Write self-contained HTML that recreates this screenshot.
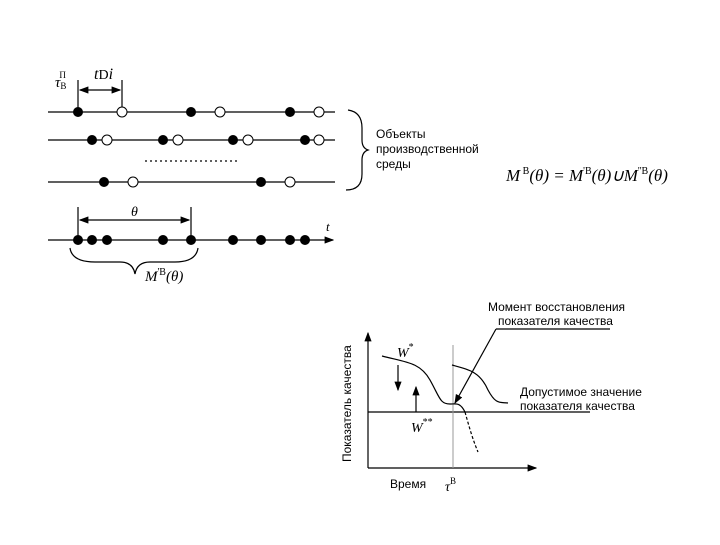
<!DOCTYPE html>
<html><head><meta charset="utf-8"><style>
body{margin:0;background:#fff}
.s{font-family:"Liberation Sans",sans-serif}
.m{font-family:"Liberation Serif",serif;font-style:italic}
</style></head><body>
<svg width="720" height="540" viewBox="0 0 720 540" xmlns="http://www.w3.org/2000/svg">
<defs><marker id="a" markerWidth="8" markerHeight="6" refX="7" refY="3" orient="auto"><path d="M0,0L8,3L0,6z" fill="#000"/></marker>
<marker id="b" markerWidth="8" markerHeight="6" refX="1" refY="3" orient="auto"><path d="M8,0L0,3L8,6z" fill="#000"/></marker></defs>
<g stroke="#000" stroke-width="1.2" fill="none">
<line x1="48" y1="112" x2="335" y2="112"/>
<line x1="48" y1="140" x2="335" y2="140"/>
<line x1="48" y1="182" x2="335" y2="182"/>
<line x1="48" y1="240" x2="333" y2="240" marker-end="url(#a)"/>
<line x1="145" y1="161" x2="238" y2="161" stroke-dasharray="2,3"/>
<line x1="78" y1="80" x2="78" y2="112"/><line x1="122" y1="80" x2="122" y2="112"/>
<line x1="80" y1="90" x2="120" y2="90" marker-start="url(#b)" marker-end="url(#a)"/>
<line x1="78" y1="207" x2="78" y2="240"/><line x1="191" y1="207" x2="191" y2="240"/>
<line x1="80" y1="220" x2="189" y2="220" marker-start="url(#b)" marker-end="url(#a)"/>
<path d="M70,248 Q72,262 95,262 L120,262 Q133,262 135,274 Q137,262 150,262 L175,262 Q196,262 198,248"/>
<path d="M348,110 Q362,112 362,128 L362,140 Q362,148 368,150 Q362,152 362,160 L362,174 Q362,190 346,190"/>
</g>
<g fill="#000">
<circle cx="78" cy="112" r="5"/><circle cx="191" cy="112" r="5"/><circle cx="290" cy="112" r="5"/>
<circle cx="92" cy="140" r="5"/><circle cx="163" cy="140" r="5"/><circle cx="233" cy="140" r="5"/><circle cx="305" cy="140" r="5"/>
<circle cx="104" cy="182" r="5"/><circle cx="261" cy="182" r="5"/>
<circle cx="78" cy="240" r="5"/><circle cx="92" cy="240" r="5"/><circle cx="107" cy="240" r="5"/><circle cx="163" cy="240" r="5"/><circle cx="191" cy="240" r="5"/><circle cx="233" cy="240" r="5"/><circle cx="261" cy="240" r="5"/><circle cx="290" cy="240" r="5"/><circle cx="305" cy="240" r="5"/>
</g>
<g fill="#fff" stroke="#000" stroke-width="1">
<circle cx="122" cy="112" r="5"/><circle cx="220" cy="112" r="5"/><circle cx="319" cy="112" r="5"/>
<circle cx="107" cy="140" r="5"/><circle cx="178" cy="140" r="5"/><circle cx="248" cy="140" r="5"/><circle cx="319" cy="140" r="5"/>
<circle cx="133" cy="182" r="5"/><circle cx="290" cy="182" r="5"/>
</g>
<g class="m">
<text x="55" y="87" font-size="15">τ<tspan font-size="9" dy="2" font-style="normal">В</tspan><tspan font-size="9" dx="-7" dy="-11" font-style="normal">П</tspan></text>
<text x="94" y="79" font-size="16">t<tspan font-style="normal" font-size="14">D</tspan>i</text>
<text x="131" y="216" font-size="14">θ</text>
<text x="326" y="231" font-size="13">t</text>
<text x="145" y="281" font-size="15">M<tspan font-size="10" dy="-6" font-style="normal">'В</tspan><tspan dy="6">(θ)</tspan></text>
<text x="506" y="181" font-size="17">M<tspan font-size="10" dy="-7" font-style="normal"> В</tspan><tspan dy="7">(θ) = M</tspan><tspan font-size="10" dy="-7" font-style="normal">'В</tspan><tspan dy="7">(θ)∪M</tspan><tspan font-size="10" dy="-7" font-style="normal">''В</tspan><tspan dy="7">(θ)</tspan></text>
</g>
<g font-size="12" class="s">
<text x="376" y="138">Объекты</text><text x="376" y="153">производственной</text><text x="376" y="168">среды</text>
</g>
<g stroke="#000" stroke-width="1.2" fill="none">
<line x1="368" y1="468" x2="368" y2="333" marker-end="url(#a)"/>
<line x1="368" y1="468" x2="536" y2="468" marker-end="url(#a)"/>
<line x1="368" y1="412" x2="590" y2="412"/>
<line x1="453" y1="345" x2="453" y2="468" stroke="#999" stroke-width="1"/>
<path d="M382,356 C405,362 420,362 430,380 C440,398 440,404 450,404 C456,404 460,402 465,412"/>
<path d="M452,365 C470,370 480,372 488,390 C496,405 500,402 508,403"/>
<path d="M465,412 C470,430 473,440 478,452" stroke-dasharray="3,2"/>
<line x1="398" y1="365" x2="398" y2="390" marker-end="url(#a)"/>
<line x1="416" y1="412" x2="416" y2="387" marker-end="url(#a)"/>
<line x1="496" y1="329" x2="455" y2="403" marker-end="url(#a)"/>
<line x1="496" y1="329" x2="610" y2="329"/>
</g>
<g class="m" font-size="14">
<text x="397" y="357">W<tspan font-size="10" dy="-7" font-style="normal">*</tspan></text>
<text x="411" y="432">W<tspan font-size="10" dy="-7" font-style="normal">**</tspan></text>
<text x="445" y="491">τ<tspan font-size="9" dy="-7" font-style="normal">В</tspan></text>
</g>
<g font-size="12" class="s">
<text x="488" y="311">Момент восстановления</text>
<text x="498" y="325">показателя качества</text>
<text x="520" y="396">Допустимое значение</text>
<text x="520" y="410">показателя качества</text>
<text x="390" y="488">Время</text>
<text transform="translate(351,462) rotate(-90)">Показатель качества</text>
</g>
</svg>
</body></html>
